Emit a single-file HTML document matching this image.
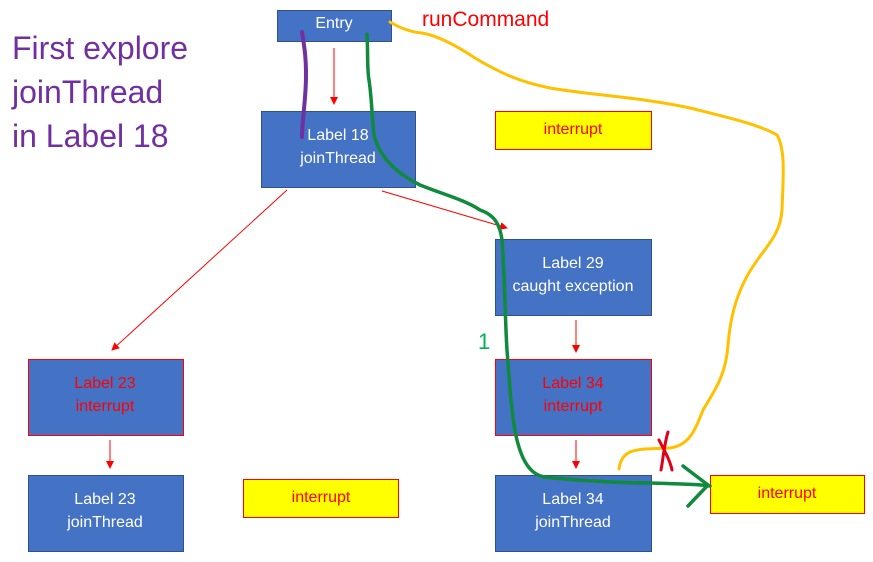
<!DOCTYPE html>
<html><head><meta charset="utf-8"><style>
html,body{margin:0;padding:0;background:#fff;}
svg{display:block;}
text{font-family:"Liberation Sans",sans-serif;}
</style></head><body>
<svg width="873" height="562" viewBox="0 0 873 562" xmlns="http://www.w3.org/2000/svg">
<defs>
<marker id="a" markerWidth="8" markerHeight="8" refX="7" refY="4" orient="auto" markerUnits="userSpaceOnUse"><path d="M0,0 L8,4 L0,8 z" fill="#f00"/></marker>
</defs>
<g stroke="#2F528F" stroke-width="1" fill="#4472C4">
<rect x="277.5" y="10.5" width="114" height="31"/>
<rect x="261.5" y="111.5" width="154" height="76"/>
<rect x="495.5" y="239.5" width="156" height="76"/>
<rect x="28.5" y="359.5" width="155" height="76" stroke="#f00"/>
<rect x="495.5" y="359.5" width="156" height="76" stroke="#f00"/>
<rect x="28.5" y="475.5" width="155" height="76"/>
<rect x="495.5" y="475.5" width="156" height="76"/>
</g>
<g fill="#ffff00" stroke="#f00">
<rect x="495.5" y="111.5" width="156" height="38"/>
<rect x="243.5" y="479.5" width="155" height="38"/>
<rect x="710.5" y="475.5" width="154" height="38"/>
</g>
<g font-size="16" text-anchor="middle" fill="#fff">
<text x="334" y="28">Entry</text>
<text x="338" y="140">Label 18</text><text x="338" y="163">joinThread</text>
<text x="573" y="268">Label 29</text><text x="573" y="291">caught exception</text>
<text x="105" y="504">Label 23</text><text x="105" y="527">joinThread</text>
<text x="573" y="504">Label 34</text><text x="573" y="527">joinThread</text>
</g>
<g font-size="16" text-anchor="middle" fill="#f00">
<text x="105" y="388">Label 23</text><text x="105" y="411">interrupt</text>
<text x="573" y="388">Label 34</text><text x="573" y="411">interrupt</text>
<text x="573" y="134">interrupt</text>
<text x="321" y="502">interrupt</text>
<text x="787" y="498">interrupt</text>
</g>
<text x="422" y="26" font-size="21" fill="#f00">runCommand</text>
<g font-size="32" fill="#7030A0">
<text x="12" y="59">First explore</text>
<text x="12" y="103">joinThread</text>
<text x="12" y="147">in Label 18</text>
</g>
<text x="478" y="349" font-size="22" fill="#00b050">1</text>
<g stroke="#f00" stroke-width="1" fill="none" marker-end="url(#a)">
<line x1="334" y1="48" x2="334" y2="104"/>
<line x1="287" y1="190" x2="112" y2="350"/>
<line x1="382" y1="191" x2="507" y2="228"/>
<line x1="576" y1="320" x2="576" y2="352"/>
<line x1="576" y1="440" x2="576" y2="468"/>
<line x1="110" y1="440" x2="110" y2="468"/>
</g>
<path d="M302,32 C305,50 306,60 306,75 C306,100 302,120 302,137" stroke="#7030A0" stroke-width="4" fill="none" stroke-linecap="round"/>
<path d="M367,34 C368,50 367,70 369,80 C372,100 372,120 374,135 C380,160 400,175 420,185 C445,195 465,200 480,210 C495,215 500,225 502,240 C505,280 505,320 507,350 C510,390 512,420 517,440 C522,460 530,475 545,477 C570,480 620,483 650,483 C680,484 700,484 710,486" stroke="#108a3c" stroke-width="3.5" fill="none" stroke-linecap="round"/>
<path d="M683,466 L708,485 L688,506" stroke="#108a3c" stroke-width="3.5" fill="none" stroke-linecap="round" stroke-linejoin="round"/>
<path d="M390,22 C400,28 410,32 422,33 C440,36 460,48 475,58 C500,73 520,82 550,88 C590,95 640,97 690,108 C730,118 760,125 777,135 C786,150 783,180 782,210 C780,240 760,250 745,280 C735,300 730,320 728,345 C726,375 715,390 703,410 C695,430 690,445 670,448 C655,449 640,448 630,452 C622,456 620,462 619,469" stroke="#FFC000" stroke-width="3" fill="none" stroke-linecap="round"/>
<path d="M659,440 C664,450 670,460 672,470 M668,432 C664,445 663,460 661,470" stroke="#e0001a" stroke-width="3" fill="none" stroke-linecap="round"/>
</svg>
</body></html>
